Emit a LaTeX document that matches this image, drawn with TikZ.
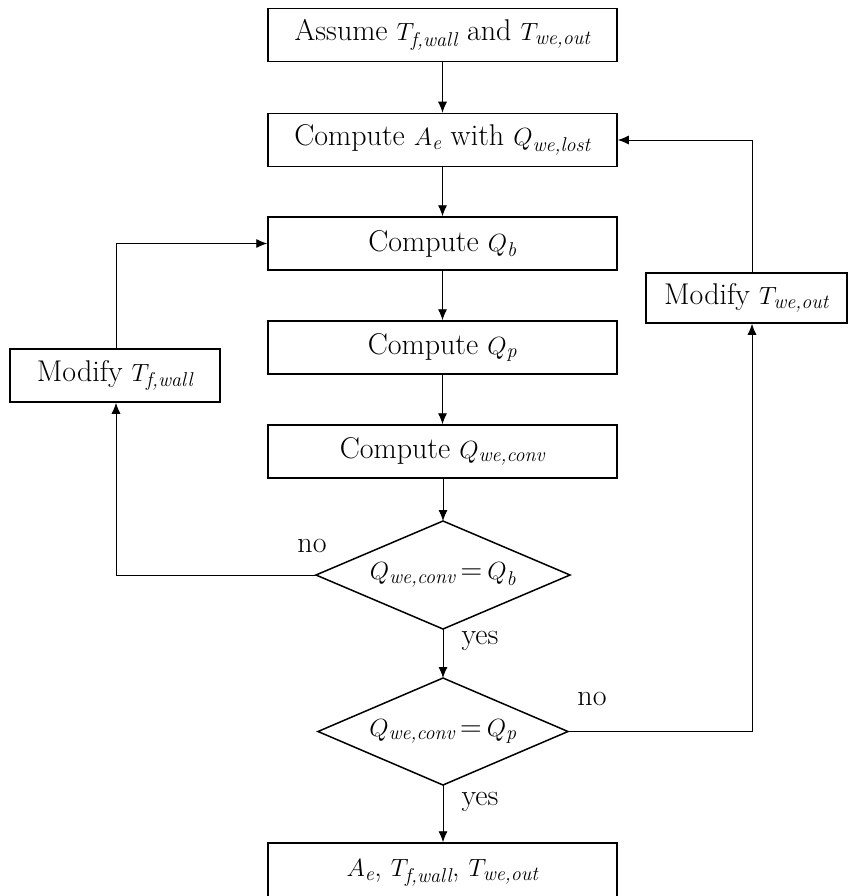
\documentclass[tikz,border=0pt]{standalone}
\usetikzlibrary{arrows.meta,shapes.geometric}
\newcommand{\vv}[2]{$#1_{\mbox{\fontsize{20}{20}\selectfont\itshape #2}}$}
\begin{document}
\begin{tikzpicture}[x=1pt,y=-1pt,
  box/.style={draw,line width=1.5pt,minimum height=53pt,inner sep=0pt,font=\fontsize{30}{34}\selectfont},
  arr/.style={line width=0.9pt,-{Latex[length=11pt,width=9pt]}},
  lbl/.style={font=\fontsize{30}{34}\selectfont,inner sep=0pt}]
\useasboundingbox (0,0) rectangle (848,896);
\node[box,minimum width=349pt] (b1) at (442.5,35) {Assume \vv{T}{f,wall} and \vv{T}{we,out}};
\node[box,minimum width=349pt] (b2) at (442.5,140) {Compute \vv{A}{e} with \vv{Q}{we,lost}};
\node[box,minimum width=349pt] (b3) at (442.5,243.5) {Compute \vv{Q}{b}};
\node[box,minimum width=349pt] (b4) at (442.5,347.5) {Compute \vv{Q}{p}};
\node[box,minimum width=349pt] (b5) at (442.5,451.5) {Compute \vv{Q}{we,conv}};
\coordinate (d1c) at (443,575);
\draw[line width=1.5pt] (443,521) coordinate (d1t) -- (570,575) coordinate (d1r) -- (443,629) coordinate (d1b) -- (316,575) coordinate (d1l) -- cycle;
\node[lbl] (d1) at (d1c) {\vv{Q}{we,conv}\,=\,\vv{Q}{b}};
\coordinate (d2c) at (443,731.5);
\draw[line width=1.5pt] (443,678) coordinate (d2t) -- (568,731.5) coordinate (d2r) -- (443,785) coordinate (d2b) -- (318,731.5) coordinate (d2l) -- cycle;
\node[lbl] (d2) at (d2c) {\vv{Q}{we,conv}\,=\,\vv{Q}{p}};
\node[box,minimum width=349pt,minimum height=60pt] (b6) at (442.5,873) {\vv{A}{e}, \vv{T}{f,wall}, \vv{T}{we,out}};
\node[box,minimum width=210pt,minimum height=53pt] (mf) at (115,375.5) {Modify \vv{T}{f,wall}};
\node[box,minimum width=201pt,minimum height=50pt] (mw) at (746.5,298) {Modify \vv{T}{we,out}};
\draw[arr] (b1) -- (b2);
\draw[arr] (b2) -- (b3);
\draw[arr] (b3) -- (b4);
\draw[arr] (b4) -- (b5);
\draw[arr] (b5.south -| d1t) -- (d1t);
\draw[arr] (d1b) -- (d2t);
\draw[arr] (d2b) -- (b6.north -| d2b);
\draw[arr] (d1l) -| (mf.south -| 116,0);
\draw[arr] (mf.north -| 116,0) |- (b3.west);
\draw[arr] (d2r) -| (mw.south -| 752,0);
\draw[arr] (mw.north -| 752,0) |- (b2.east);
\node[lbl] (n1) at (312,546) {no};
\node[lbl] (y1) at (480,641) {yes};
\node[lbl] (n2) at (592,699) {no};
\node[lbl] (y2) at (480,802) {yes};
\end{tikzpicture}
\end{document}
